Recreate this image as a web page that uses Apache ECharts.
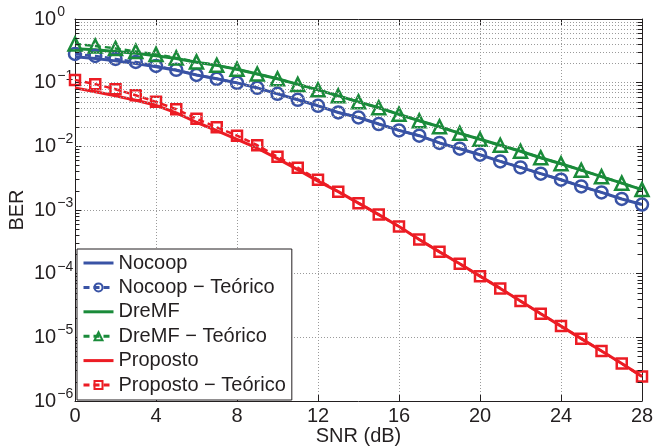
<!DOCTYPE html>
<html>
<head>
<meta charset="utf-8">
<script src="https://cdn.jsdelivr.net/npm/echarts@6/dist/echarts.min.js"></script>
<style>
  html, body { margin: 0; padding: 0; background: #fff; }
  #chart { width: 654px; height: 448px; }
</style>
</head>
<body>
<div id="chart"></div>
<script>
// ===== BER x SNR — simulado vs teórico =====

const FONT = '"Liberation Sans", Arial, Helvetica, sans-serif';
const INK = '#231f20';
const BLUE = '#3953a5';
const GREEN = '#1a8b3a';
const RED = '#ec1c24';

// SNR (dB)
const snr = [0, 1, 2, 3, 4, 5, 6, 7, 8, 9, 10, 11, 12, 13, 14, 15, 16, 17, 18, 19, 20, 21, 22, 23, 24, 25, 26, 27, 28];

// BER values
const nocoop = [0.255, 0.24, 0.22, 0.2, 0.178, 0.157, 0.132, 0.115, 0.0993, 0.0829, 0.0668, 0.0538, 0.0433, 0.034, 0.0284,
  0.0224, 0.0178, 0.0147, 0.0113, 0.00917, 0.00738, 0.0058, 0.00467, 0.00372, 0.00299, 0.00235, 0.00189, 0.00149, 0.00122];
const nocoopTeo = [0.283, 0.263, 0.236, 0.212, 0.183, 0.159, 0.132, 0.115, 0.0993, 0.0829, 0.0668, 0.0538, 0.0433, 0.034, 0.0284,
  0.0224, 0.0178, 0.0147, 0.0113, 0.00917, 0.00738, 0.0058, 0.00467, 0.00372, 0.00299, 0.00235, 0.00189, 0.00149, 0.00122];
const dremf = [0.34, 0.33, 0.31, 0.29, 0.265, 0.24, 0.21, 0.187, 0.162, 0.137, 0.115, 0.094, 0.0771, 0.0621, 0.05,
  0.0403, 0.0318, 0.0252, 0.0203, 0.016, 0.0129, 0.0104, 0.00838, 0.00662, 0.00533, 0.00422, 0.00334, 0.00264, 0.00209];
const dremfTeo = [0.406, 0.377, 0.345, 0.31, 0.278, 0.245, 0.212, 0.187, 0.162, 0.137, 0.115, 0.094, 0.0771, 0.0621, 0.05,
  0.0403, 0.0318, 0.0252, 0.0203, 0.016, 0.0129, 0.0104, 0.00838, 0.00662, 0.00533, 0.00422, 0.00334, 0.00264, 0.00209];
const proposto = [0.0829, 0.0718, 0.0621, 0.0528, 0.0441, 0.0336, 0.0239, 0.0176, 0.0129, 0.00934, 0.0064, 0.0043, 0.00284, 0.00194, 0.00128,
  0.000847, 0.000549, 0.000344, 0.00022, 0.000143, 9.14e-5, 5.87e-5, 3.71e-5, 2.35e-5, 1.5e-5, 9.54e-6, 6.1e-6, 3.87e-6, 2.42e-6];
const propostoTeo = [0.1106, 0.0947, 0.079, 0.0633, 0.05, 0.0382, 0.0271, 0.0199, 0.0147, 0.0104, 0.00687, 0.00462, 0.00299, 0.00194, 0.00128,
  0.000847, 0.000549, 0.000344, 0.00022, 0.000143, 9.14e-5, 5.87e-5, 3.71e-5, 2.35e-5, 1.5e-5, 9.54e-6, 6.1e-6, 3.87e-6, 2.42e-6];

// log grid: decades and the 2..9 minor lines
const decades = [1e-6, 1e-5, 1e-4, 1e-3, 1e-2, 1e-1, 1];
const minorMult = [2, 3, 4, 5, 6, 7, 8, 9];

const minorVals = [];
decades.slice(0, -1).forEach(d => minorMult.forEach(m => minorVals.push(+(d * m).toPrecision(3))));

function pairs(ys) { return snr.map((x, i) => [x, ys[i]]); }

function supLabel(v) {
  const e = Math.round(Math.log10(v));
  return '{b|10}{e|' + (e < 0 ? '\u2212' + (-e) : e) + '}';
}

const dotted = { color: '#9a9a9a', width: 1, type: [1, 2] };

const gridLines = [];
minorVals.forEach(v => gridLines.push({ yAxis: v }));
// inner minor ticks on left and right borders
const tickMarks = [];
minorVals.forEach(v => {
  tickMarks.push([{ coord: [0, v] }, { coord: [0.22, v] }]);
  tickMarks.push([{ coord: [27.78, v] }, { coord: [28, v] }]);
});

function solid(name, ys, color) {
  return {
    name: name, type: 'line', data: pairs(ys), symbol: 'none', z: 3,
    lineStyle: { color: color, width: 3 }, itemStyle: { color: color }
  };
}
function teo(name, ys, color, sym, size) {
  return {
    name: name, type: 'line', data: pairs(ys), symbol: sym, symbolSize: size, z: 4,
    lineStyle: { color: color, width: 2.5, type: [6, 4] },
    itemStyle: { color: 'rgba(255,255,255,0)', borderColor: color, borderWidth: 2.5 }
  };
}

const axisBase = {
  axisLine: { show: true, onZero: false, lineStyle: { color: INK, width: 1 } },
  axisTick: { show: true, inside: true, length: 6, lineStyle: { color: INK } }
};

const noMark = { opacity: 0 };

const chart = echarts.init(document.getElementById('chart'), null, { renderer: 'canvas' });
chart.setOption({
  backgroundColor: '#fff',
  animation: false,
  textStyle: { fontFamily: FONT },
  grid: { left: 75, right: 12, top: 19, bottom: 47, containLabel: false, outerBoundsMode: 'none' },
  xAxis: [
    Object.assign({
      type: 'value', min: 0, max: 28, interval: 4, position: 'bottom',
      name: 'SNR (dB)', nameLocation: 'middle', nameGap: 25, nameMoveOverlap: false,
      nameTextStyle: { color: INK, fontSize: 20, fontFamily: FONT },
      axisLabel: { color: INK, fontSize: 20, fontFamily: FONT, margin: 5 },
      splitLine: { show: true, lineStyle: dotted }
    }, axisBase),
    Object.assign({
      type: 'value', min: 0, max: 28, interval: 4, position: 'top',
      axisLabel: { show: false }, splitLine: { show: false }
    }, axisBase)
  ],
  yAxis: [
    Object.assign({
      type: 'log', logBase: 10, min: 1e-6, max: 1, splitNumber: 6, position: 'left',
      name: 'BER', nameLocation: 'middle', nameGap: 48, nameMoveOverlap: false,
      nameTextStyle: { color: INK, fontSize: 20, fontFamily: FONT },
      axisLabel: {
        color: INK, fontFamily: FONT, align: 'left', margin: 41,
        formatter: supLabel,
        rich: {
          b: { fontSize: 20, color: INK, fontFamily: FONT },
          e: { fontSize: 14, color: INK, fontFamily: FONT, padding: [0, 0, 14, 1] }
        }
      },
      splitLine: { show: true, lineStyle: dotted }
    }, axisBase),
    Object.assign({
      type: 'log', logBase: 10, min: 1e-6, max: 1, splitNumber: 6, position: 'right',
      axisLabel: { show: false }, splitLine: { show: false }
    }, axisBase)
  ],
  legend: {
    data: [
      { name: 'Nocoop', itemStyle: noMark },
      'Nocoop \u2212 Teórico',
      { name: 'DreMF', itemStyle: noMark },
      'DreMF \u2212 Teórico',
      { name: 'Proposto', itemStyle: noMark },
      'Proposto \u2212 Teórico'
    ],
    orient: 'vertical', left: 77, top: 249,
    itemWidth: 30, itemHeight: 10, itemGap: 4.4,
    padding: [4, 6, 5, 5],
    backgroundColor: '#fff', borderColor: INK, borderWidth: 1,
    lineStyle: { width: 3 },
    textStyle: { color: INK, fontSize: 20, fontFamily: FONT, lineHeight: 20 },
    z: 10
  },
  series: [
    {
      name: 'grid', type: 'line', data: [], z: 1, silent: true,
      markLine: {
        silent: true, symbol: 'none', label: { show: false },
        lineStyle: dotted, animation: false,
        data: gridLines
      }
    },
    {
      name: 'ticks', type: 'line', data: [], z: 1, silent: true,
      markLine: {
        silent: true, symbol: 'none', label: { show: false },
        lineStyle: { color: INK, width: 1, type: 'solid' }, animation: false,
        data: tickMarks
      }
    },
    solid('Nocoop', nocoop, BLUE),
    teo('Nocoop \u2212 Teórico', nocoopTeo, BLUE, 'circle', 12),
    solid('DreMF', dremf, GREEN),
    teo('DreMF \u2212 Teórico', dremfTeo, GREEN, 'triangle', 13),
    solid('Proposto', proposto, RED),
    teo('Proposto \u2212 Teórico', propostoTeo, RED, 'rect', 10)
  ]
});
</script>
</body>
</html>
